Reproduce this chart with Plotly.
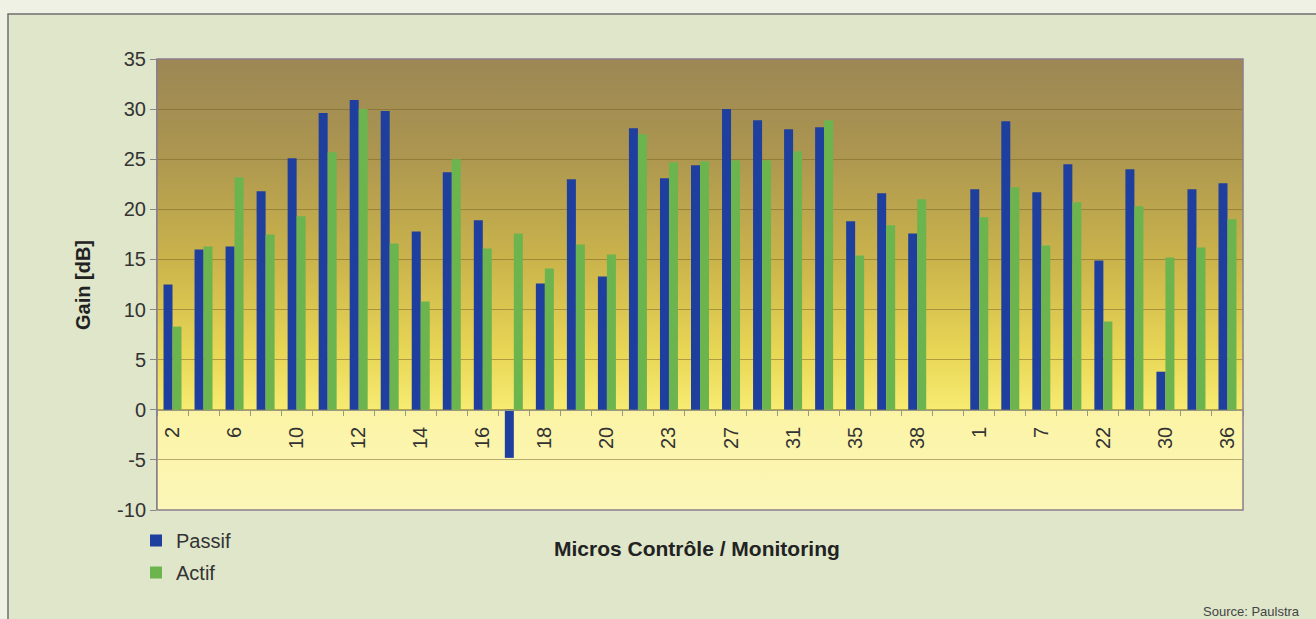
import base64
import plotly.graph_objects as go

# ---- data ----
labels = ["2", "", "6", "", "10", "", "12", "", "14", "", "16", "", "18", "", "20", "",
          "23", "", "27", "", "31", "", "35", "", "38", "", "1", "", "7", "", "22", "",
          "30", "", "36"]
passif = [12.5, 16.0, 16.3, 21.8, 25.1, 29.6, 30.9, 29.8, 17.8, 23.7, 18.9, -4.8,
          12.6, 23.0, 13.3, 28.1, 23.1, 24.4, 30.0, 28.9, 28.0, 28.2, 18.8, 21.6,
          17.6, None, 22.0, 28.8, 21.7, 24.5, 14.9, 24.0, 3.8, 22.0, 22.6]
actif = [8.3, 16.3, 23.2, 17.5, 19.3, 25.7, 30.0, 16.6, 10.8, 25.0, 16.1, 17.6,
         14.1, 16.5, 15.5, 27.5, 24.7, 24.8, 24.9, 24.9, 25.8, 28.9, 15.4, 18.4,
         21.0, None, 19.2, 22.2, 16.4, 20.7, 8.8, 20.3, 15.2, 16.2, 19.0]
y_ticks = [-10, -5, 0, 5, 10, 15, 20, 25, 30, 35]

x = list(range(len(labels)))
tickvals = [i for i, l in enumerate(labels) if l]
ticktext = [l for l in labels if l]

FONT = "Liberation Sans, Arial, sans-serif"
W, H = 1316, 619
ML, MR, MT, MB = 157, 73, 59, 109
PW, PH = W - ML - MR, H - MT - MB

def px_x(p):
    return (p - ML) / PW

def px_y(p):
    return (H - MB - p) / PH

# gradient background for the plot area (svg data uri)
zero_frac = (35 - 0) / 45 * 100
svg = f'''<svg xmlns="http://www.w3.org/2000/svg" width="100" height="100" preserveAspectRatio="none">
<defs><linearGradient id="g" x1="0" y1="0" x2="0" y2="1">
<stop offset="0%" stop-color="#9c8755"/>
<stop offset="20%" stop-color="#ab9550"/>
<stop offset="45%" stop-color="#cbb44b"/>
<stop offset="65%" stop-color="#e8d655"/>
<stop offset="{zero_frac:.1f}%" stop-color="#f7eb72"/>
<stop offset="{zero_frac+0.3:.1f}%" stop-color="#fbf4a6"/>
<stop offset="100%" stop-color="#fcf6b8"/>
</linearGradient></defs>
<rect x="0" y="0" width="100" height="100" fill="url(#g)"/></svg>'''
src = "data:image/svg+xml;base64," + base64.b64encode(svg.encode()).decode()

fig = go.Figure()
fig.add_trace(go.Bar(x=x, y=passif, name="Passif", legendgroup="p",
                     marker=dict(color="#1f3f9e", line=dict(width=0))))
fig.add_trace(go.Bar(x=x, y=actif, name="Actif", legendgroup="a",
                     marker=dict(color="#6cb44e", line=dict(width=0))))

fig.update_layout(
    width=W, height=H,
    margin=dict(l=ML, r=MR, t=MT, b=MB),
    paper_bgcolor="#dfe6ca",
    plot_bgcolor="rgba(0,0,0,0)",
    barmode="group", bargap=0.42, bargroupgap=0,
    font=dict(family=FONT, size=20, color="#333333"),
    showlegend=True,
    legend=dict(x=px_x(136), y=px_y(521), xanchor="left", yanchor="top",
                bgcolor="rgba(0,0,0,0)", font=dict(size=20, color="#333333"),
                itemwidth=30, tracegroupgap=3, traceorder="grouped"),
    images=[dict(source=src, xref="paper", yref="paper", x=0, y=1, sizex=1, sizey=1,
                 sizing="stretch", layer="below", xanchor="left", yanchor="top")],
    xaxis=dict(range=[-0.5, len(labels) - 0.5], tickmode="array", tickvals=tickvals,
               ticktext=ticktext, tickangle=-90, ticks="", ticklabelstandoff=8,
               showgrid=False, zeroline=False, showline=True, linecolor="#9a9a80", linewidth=1,
               anchor="free", position=(0 - (-10)) / 45,
               tickfont=dict(size=20, color="#333333"),
               minor=dict(tickmode="linear", tick0=-0.5, dtick=1, ticks="outside",
                          ticklen=5, tickcolor="#9a9a80", showgrid=False)),
    yaxis=dict(range=[-10, 35], tickmode="array", tickvals=y_ticks,
               ticktext=[str(v) for v in y_ticks], ticks="outside",
               ticklen=6, tickcolor="#888888", showline=True, linecolor="#888888",
               showgrid=True, gridcolor="rgba(115,95,40,0.5)", gridwidth=1,
               zeroline=False, tickfont=dict(size=20, color="#333333")),
    annotations=[
        dict(text="<b>Micros Contrôle / Monitoring</b>", xref="paper", yref="paper",
             x=px_x(697), y=px_y(548), xanchor="center", yanchor="middle",
             showarrow=False, font=dict(size=21, color="#222222")),
        dict(text="<b>Gain [dB]</b>", xref="paper", yref="paper", textangle=-90,
             x=px_x(83), y=px_y(285), xanchor="center", yanchor="middle",
             showarrow=False, font=dict(size=20, color="#222222")),
        dict(text="Source: Paulstra", xref="paper", yref="paper",
             x=px_x(1302), y=px_y(611), xanchor="right", yanchor="middle",
             showarrow=False, font=dict(size=13, color="#444444")),
    ],
    shapes=[
        # light strips outside the frame
        dict(type="rect", xref="paper", yref="paper", x0=px_x(-5), x1=px_x(8),
             y0=px_y(630), y1=px_y(-5), fillcolor="#eef1e4", line=dict(width=0), layer="below"),
        dict(type="rect", xref="paper", yref="paper", x0=px_x(-5), x1=px_x(1330),
             y0=px_y(14), y1=px_y(-5), fillcolor="#eef1e4", line=dict(width=0), layer="below"),
        # frame
        dict(type="rect", xref="paper", yref="paper", x0=px_x(8), x1=px_x(1330),
             y0=px_y(640), y1=px_y(14), fillcolor="rgba(0,0,0,0)",
             line=dict(color="#6f6f6f", width=1.5), layer="above"),
        # plot area border
        dict(type="rect", xref="paper", yref="paper", x0=0, x1=1, y0=0, y1=1,
             fillcolor="rgba(0,0,0,0)", line=dict(color="#8c7d8c", width=1.5), layer="above"),
    ],
)

fig.write_html("out.html")
